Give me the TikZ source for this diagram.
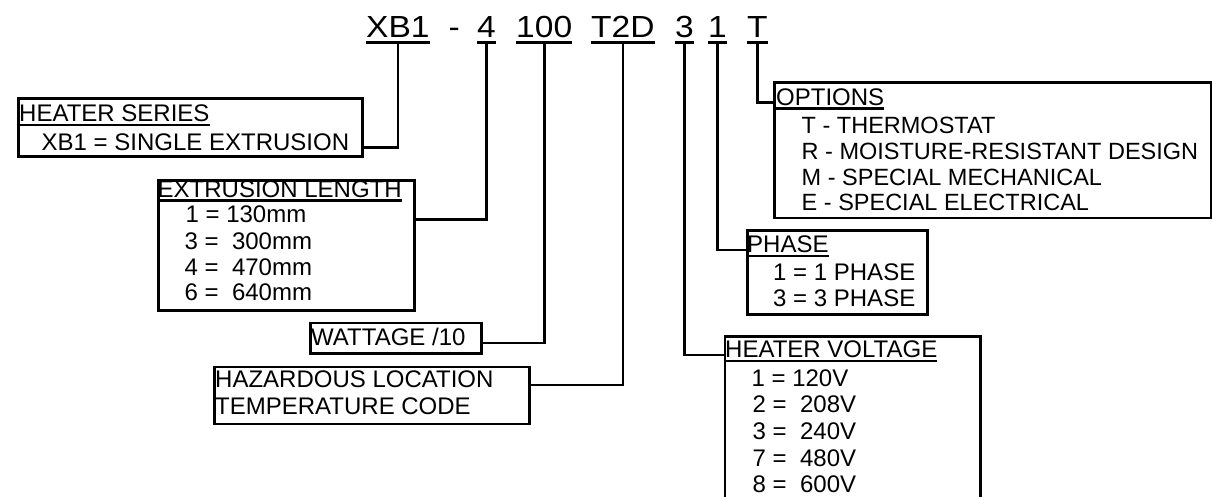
\documentclass[tikz,border=0pt]{standalone}
\usepackage{fontspec}
\setmainfont{Liberation Sans}
\usepackage{graphicx}
\newcommand\boxfont{\fontsize{24}{28}\selectfont}
\newcommand\optfont{\fontsize{23.5}{28}\selectfont}
\newcommand\ttlfont{\fontsize{30.5}{36}\selectfont}
\newcommand\ttlx[1]{\scalebox{1.1}[1]{#1}}
\tikzset{
  lbl/.style={anchor=base west, inner sep=0pt, font=\boxfont},
  olbl/.style={anchor=base west, inner sep=0pt, font=\optfont},
  ttl/.style={anchor=base west, inner sep=0pt, font=\ttlfont},
  frame/.style={draw, line width=2.7pt, anchor=north west, inner sep=0pt},
  ul/.style={line width=2.2pt},
  tul/.style={line width=3pt},
  conn/.style={line width=2.7pt},
}
\begin{document}
\begin{tikzpicture}[x=1pt,y=-1pt]
\path[use as bounding box, clip] (0,0) rectangle (1212,496);

% ---------- title code ----------
\node[ttl] (xb)  at (366,37.3)   {\ttlx{XB1}};
\node[ttl] (dash) at (448.5,37.3) {\ttlx{-}};
\node[ttl] (len) at (477,37.3)   {\ttlx{4}};
\node[ttl] (wat) at (516,37.3)   {\ttlx{100}};
\node[ttl] (tcd) at (591,37.3)   {\ttlx{T2D}};
\node[ttl] (vol) at (675,37.3)   {\ttlx{3}};
\node[ttl] (pha) at (708,37.3)   {\ttlx{1}};
\node[ttl] (opt) at (747,37.3)   {\ttlx{T}};
\foreach \n in {xb,len,wat,tcd,vol,pha,opt}
  \draw[tul] ([yshift=-5pt]\n.base west) -- ([yshift=-5pt]\n.base east);

% ---------- frames ----------
\node[frame, minimum width=344pt, minimum height=58pt]    (hs) at (17,97) {};
\node[frame, minimum width=256pt, minimum height=129.7pt] (ex) at (157,179.3) {};
\node[frame, minimum width=171pt, minimum height=30.3pt]  (wb) at (309,321.7) {};
\node[frame, minimum width=315pt, minimum height=57pt]    (hz) at (213,365.7) {};
\node[frame, minimum width=437pt, minimum height=135.7pt] (op) at (773,81) {};
\node[frame, minimum width=180pt, minimum height=84pt]    (ph) at (746,229.3) {};
\node[frame, minimum width=255.5pt, minimum height=185pt] (hv) at (723.5,335) {};

% ---------- heater series ----------
\node[lbl] (hs1) at (19,121.7) {HEATER SERIES};
\node[lbl] (hs2) at (41.5,150) {XB1 = SINGLE EXTRUSION};

% ---------- extrusion length ----------
\node[lbl] (ex1) at (157.5,197) {EXTRUSION LENGTH};
\node[lbl] (ex2) at (185.4,222) {1 = 130mm};
\node[lbl] (ex3) at (184.5,249) {3 =\ \ 300mm};
\node[lbl] (ex4) at (184.5,275) {4 =\ \ 470mm};
\node[lbl] (ex5) at (184.5,300) {6 =\ \ 640mm};

% ---------- wattage ----------
\node[lbl] (wb1) at (311,345.7) {WATTAGE /10};

% ---------- hazardous ----------
\node[lbl] (hz1) at (215,387.7) {HAZARDOUS LOCATION};
\node[lbl] (hz2) at (215,414) {TEMPERATURE CODE};

% ---------- options ----------
\node[lbl]  (op1) at (776,105) {OPTIONS};
\node[olbl] (op2) at (801.5,133) {T - THERMOSTAT};
\node[olbl] (op3) at (801.5,159.5) {R - MOISTURE-RESISTANT DESIGN};
\node[olbl] (op4) at (801.5,185) {M - SPECIAL MECHANICAL};
\node[olbl] (op5) at (801.5,210.5) {E - SPECIAL ELECTRICAL};

% ---------- phase ----------
\node[lbl] (ph1) at (747,252.7) {PHASE};
\node[lbl] (ph2) at (773,280) {1 = 1 PHASE};
\node[lbl] (ph3) at (773,306.7) {3 = 3 PHASE};

% ---------- heater voltage ----------
\node[lbl] (hv1) at (725,357.7) {HEATER VOLTAGE};
\node[lbl] (hv2) at (751.4,386) {1 = 120V};
\node[lbl] (hv3) at (752.5,412.5) {2 =\ \ 208V};
\node[lbl] (hv4) at (752.5,439) {3 =\ \ 240V};
\node[lbl] (hv5) at (752.5,466) {7 =\ \ 480V};
\node[lbl] (hv6) at (752.5,492) {8 =\ \ 600V};

% ---------- heading underlines ----------
\foreach \n in {hs1,ex1,op1,ph1,hv1}
  \draw[ul] ([yshift=-3.5pt]\n.base west) -- ([yshift=-3.5pt]\n.base east);

% ---------- connectors ----------
\draw[conn] ([yshift=-5pt]xb.base)  |- (hs.east |- hs2.mid);
\draw[conn] ([yshift=-5pt]len.base) |- (ex.east |- ex2.mid);
\draw[conn] ([yshift=-5pt]wat.base) |- (wb.east |- wb1.mid);
\draw[conn] ([yshift=-5pt]tcd.base) |- (hz.east |- hz1.mid);
\draw[conn] ([yshift=-5pt]vol.base) |- (hv.west |- hv1.mid);
\draw[conn] ([yshift=-5pt]pha.base) |- (ph.west |- ph1.mid);
\draw[conn] ([yshift=-5pt]opt.base) |- (op.west |- op1.mid);
\end{tikzpicture}
\end{document}
